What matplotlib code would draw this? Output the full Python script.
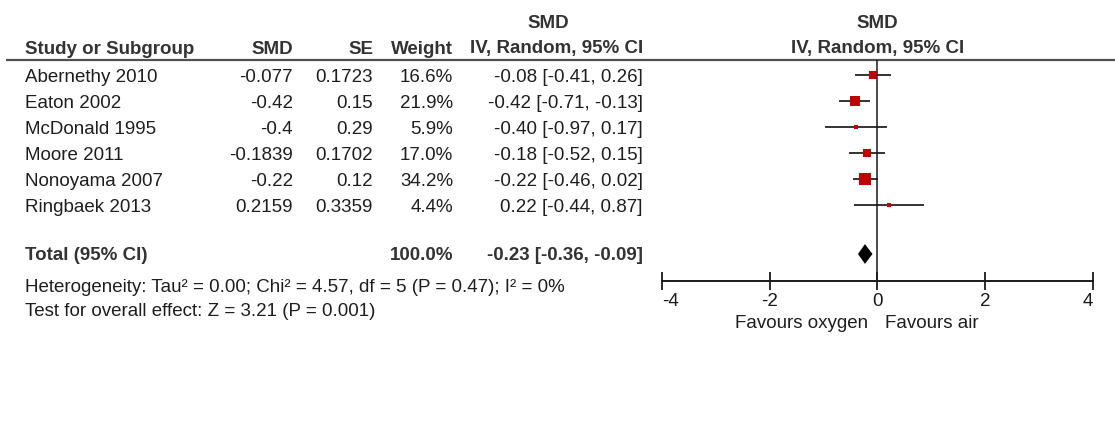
import matplotlib
matplotlib.use("Agg")
import matplotlib.pyplot as plt
import matplotlib.transforms as mtransforms
import numpy as np

# --- data ------------------------------------------------------------------
studies = ["Abernethy 2010", "Eaton 2002", "McDonald 1995",
           "Moore 2011", "Nonoyama 2007", "Ringbaek 2013"]
smd = [-0.077, -0.42, -0.4, -0.1839, -0.22, 0.2159]
se = [0.1723, 0.15, 0.29, 0.1702, 0.12, 0.3359]
weight = [16.6, 21.9, 5.9, 17.0, 34.2, 4.4]
ci_low = [-0.41, -0.71, -0.97, -0.52, -0.46, -0.44]
ci_high = [0.26, -0.13, 0.17, 0.15, 0.02, 0.87]

total_weight = 100.0
total_smd = -0.23
total_low = -0.36
total_high = -0.09

xticks = [-4, -2, 0, 2, 4]
col_headers = ["Study or Subgroup", "SMD", "SE", "Weight", "IV, Random, 95% CI"]
effect_header = "SMD"
total_label = "Total (95% CI)"
heterogeneity = "Heterogeneity: Tau\u00b2 = 0.00; Chi\u00b2 = 4.57, df = 5 (P = 0.47); I\u00b2 = 0%"
overall = "Test for overall effect: Z = 3.21 (P = 0.001)"
left_label = "Favours oxygen"
right_label = "Favours air"

# --- layout (pixels of the 1115x421 canvas) --------------------------------
W, H = 1115, 421
ROW_PX, Y0_PX = 26, 75            # first study row centre, row pitch
AX_LEFT, AX_RIGHT = 661.7, 1093   # forest x = -4 .. 4
NAME_X, SMD_X, SE_X, WEIGHT_X, CI_X = 25, 293, 373, 453, 643
HEAD_SMD_X = 548


def row(px):
    return (px - Y0_PX) / ROW_PX


Y_TOP_HDR = row(21)
Y_HDR = row(47)
Y_RULE = row(60)
Y_TOTAL = row(254)
Y_HET = row(285)
Y_TEST = row(309)
Y_AXIS = row(281)
Y_FAV = row(321)

FS = 13.5
TXT = "#1e1e1e"
HDR = "#333333"
RED = "#c00000"

plt.rcParams["font.family"] = ["Liberation Sans", "DejaVu Sans"]
plt.rcParams["axes.unicode_minus"] = False

fig = plt.figure(figsize=(W / 100, H / 100), dpi=100)
fig.patch.set_facecolor("white")
ax = fig.add_axes([AX_LEFT / W, 0, (AX_RIGHT - AX_LEFT) / W, 1])
ax.set_xlim(xticks[0], xticks[-1])
ax.set_ylim((H - Y0_PX) / ROW_PX, -Y0_PX / ROW_PX)
ax.patch.set_alpha(0)

# table columns: x in figure fraction, y in row units
tr = mtransforms.blended_transform_factory(fig.transFigure, ax.transData)


def put(xpx, y, s, ha="right", bold=False):
    ax.text(xpx / W, y, s, transform=tr, ha=ha, va="center_baseline",
            fontsize=FS, color=HDR if bold else TXT,
            fontweight="bold" if bold else "normal", clip_on=False)


# header
put(HEAD_SMD_X, Y_TOP_HDR, effect_header, ha="center", bold=True)
for x, s in zip([NAME_X, SMD_X, SE_X, WEIGHT_X, CI_X], col_headers):
    put(x, Y_HDR, s, ha="left" if x == NAME_X else "right", bold=True)
ax.plot([6 / W, 1], [Y_RULE, Y_RULE], transform=tr, color="#505050",
        lw=1.6, clip_on=False, solid_capstyle="butt")

# study rows
rows = np.arange(len(studies))
for i, name in enumerate(studies):
    put(NAME_X, rows[i], name, ha="left")
    put(SMD_X, rows[i], str(smd[i]))
    put(SE_X, rows[i], str(se[i]))
    put(WEIGHT_X, rows[i], f"{weight[i]:.1f}%")
    put(CI_X, rows[i], f"{smd[i]:.2f} [{ci_low[i]:.2f}, {ci_high[i]:.2f}]")

# total + footnotes
put(NAME_X, Y_TOTAL, total_label, ha="left", bold=True)
put(WEIGHT_X, Y_TOTAL, f"{total_weight:.1f}%", bold=True)
put(CI_X, Y_TOTAL, f"{total_smd:.2f} [{total_low:.2f}, {total_high:.2f}]", bold=True)
put(NAME_X, Y_HET, heterogeneity, ha="left")
put(NAME_X, Y_TEST, overall, ha="left")

# forest
ax.vlines(0, Y_RULE, Y_AXIS, color="#1a1a1a", lw=1.1)
ax.hlines(rows, ci_low, ci_high, color="#111111", lw=1.2)
for i in rows:
    side_pt = 2.0 * np.sqrt(weight[i]) * 0.72   # square area ~ weight
    ax.plot(smd[i], i, marker="s", ms=side_pt, color=RED, mew=0, zorder=3)
dh = 0.38
ax.fill([total_low, total_smd, total_high, total_smd],
        [Y_TOTAL, Y_TOTAL - dh, Y_TOTAL, Y_TOTAL + dh], color="black", lw=0)

ax.text(0, Y_TOP_HDR, effect_header, ha="center", va="center_baseline",
        fontsize=FS, fontweight="bold", color=HDR)
ax.text(0, Y_HDR, col_headers[-1], ha="center", va="center_baseline",
        fontsize=FS, fontweight="bold", color=HDR)
ax.text(-0.17, Y_FAV, left_label, ha="right", va="center_baseline",
        fontsize=FS, color=TXT)
ax.text(0.14, Y_FAV, right_label, ha="left", va="center_baseline",
        fontsize=FS, color=TXT)

# axis
for side in ("left", "right", "top"):
    ax.spines[side].set_visible(False)
ax.spines["bottom"].set_position(("data", Y_AXIS))
ax.spines["bottom"].set_bounds(xticks[0], xticks[-1])
ax.spines["bottom"].set_linewidth(1.4)
ax.spines["bottom"].set_color("#1a1a1a")
ax.yaxis.set_visible(False)
ax.set_xticks(xticks)
ax.set_xticklabels([str(t) for t in xticks])
ax.tick_params(axis="x", direction="inout", length=13, width=1.3,
               pad=2, labelsize=FS, colors="#1a1a1a")
labels = ax.get_xticklabels()
labels[0].set_ha("left")
labels[-1].set_ha("right")

fig.savefig("out.png", dpi=100, facecolor="white")
